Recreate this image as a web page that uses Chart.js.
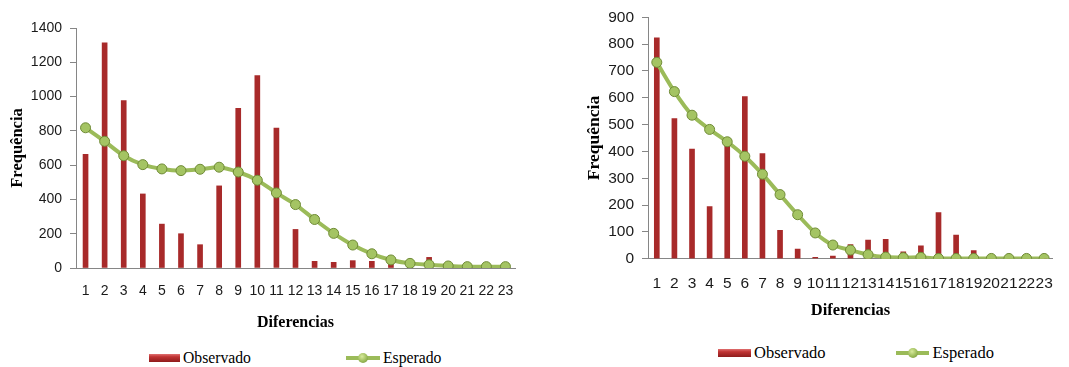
<!DOCTYPE html>
<html><head><meta charset="utf-8">
<script src="https://cdn.jsdelivr.net/npm/chart.js@4.4.0/dist/chart.umd.min.js"></script>
<style>
html,body{margin:0;padding:0;background:#fff;width:1069px;height:367px;overflow:hidden}
.panel{position:absolute;top:0;height:367px}
#p1{left:0;width:540px}
#p2{left:540px;width:529px}
canvas{position:absolute;left:0;top:0}
.legend{position:absolute;display:flex;align-items:center;font-family:"Liberation Serif",serif;color:#000;line-height:20px;white-space:nowrap}
.sw-bar{height:8px;background:linear-gradient(#e07070 0%,#c03434 35%,#8f1c1c 100%);margin-right:3px}
.sw-line{position:relative;height:12px;margin-right:3px}
.sw-line .ln{position:absolute;left:0;right:0;top:4px;height:4px;background:#9BBB59}
.sw-line .dot{position:absolute;top:1px;width:10px;height:10px;border-radius:50%;background:radial-gradient(circle at 40% 35%,#d8ea9c,#9BBB59 55%,#6f8a36);}
</style>
</head><body>
<div class="panel" id="p1">
  <canvas id="c1" width="540" height="340"></canvas>
  <div class="legend" id="lg1" style="left:149px;top:348px;font-size:15.7px"></div>
</div>
<div class="panel" id="p2">
  <canvas id="c2" width="529" height="340"></canvas>
  <div class="legend" id="lg2" style="left:178px;top:343px;font-size:16.5px"></div>
</div>
<script>
const categories = ['1','2','3','4','5','6','7','8','9','10','11','12','13','14','15','16','17','18','19','20','21','22','23'];
const seriesNames = ['Observado','Esperado'];
const xTitle = 'Diferencias';
const yTitle = 'Frequência';

const observed1 = [663,1313,977,432,256,200,136,479,931,1123,816,225,39,33,43,39,30,10,62,0,0,0,0];
const expected1 = [818,739,655,603,578,568,576,588,560,512,438,370,283,202,134,83,47,27,19,12,8,8,8];
const yMax1 = 1400, yStep1 = 200;

const observed2 = [823,522,409,194,428,604,392,106,36,5,10,53,69,72,26,48,172,88,30,0,0,0,0];
const expected2 = [732,623,535,482,436,382,315,239,164,96,51,32,15,6,4,5,1,1,1,1,1,1,1];
const yMax2 = 900, yStep2 = 100;

const AXIS = '#868686';

function makeChart(id, obs, exp, yMax, yStep, L) {
  return new Chart(document.getElementById(id), {
    data: {
      labels: categories,
      datasets: [
        { type: 'line', label: seriesNames[1], data: exp, order: 0,
          borderColor: '#9BBB59', borderWidth: 4, tension: 0.25,
          pointRadius: 5, pointBackgroundColor: '#A4C463', pointBorderColor: '#6F8A36', pointBorderWidth: 1 },
        { type: 'bar', label: seriesNames[0], data: obs, order: 1,
          backgroundColor: '#A82A2A', barThickness: 5 }
      ]
    },
    options: {
      responsive: false, animation: false,
      layout: { padding: { left: 0, right: L.padRight, top: L.padTop, bottom: 0 } },
      plugins: { legend: { display: false }, tooltip: { enabled: false } },
      scales: {
        x: {
          grid: { display: false, drawTicks: false },
          border: { display: true, color: AXIS, width: 1 },
          ticks: { autoSkip: false, maxRotation: 0, minRotation: 0, color: '#1a1a1a',
                   font: { family: 'Liberation Sans', size: L.tickSize }, padding: L.xTickPad },
          title: { display: true, text: xTitle, color: '#000',
                   font: { family: 'Liberation Serif', weight: 'bold', size: L.titleSize },
                   padding: { top: 0, bottom: L.xTitlePad } },
          afterFit: s => { s.height = L.xHeight; }
        },
        y: {
          min: 0, max: yMax,
          ticks: { stepSize: yStep, color: '#1a1a1a', callback: v => String(v),
                   font: { family: 'Liberation Sans', size: L.tickSize }, padding: 8 },
          grid: { display: true, drawOnChartArea: false, drawTicks: true, tickLength: 6, color: AXIS },
          border: { display: true, color: AXIS, width: 1 },
          title: { display: true, text: yTitle, color: '#000',
                   font: { family: 'Liberation Serif', weight: 'bold', size: L.yTitleSize },
                   padding: { top: L.yTitlePad, bottom: 0 } },
          afterFit: s => { s.width = L.yWidth; }
        }
      }
    }
  });
}

makeChart('c1', observed1, expected1, yMax1, yStep1, {
  padRight: 25, padTop: 28, tickSize: 14, xTickPad: 15, titleSize: 16, xTitlePad: 7.4,
  xHeight: 72, yTitleSize: 16.5, yTitlePad: 8, yWidth: 76
});
makeChart('c2', observed2, expected2, yMax2, yStep2, {
  padRight: 11, padTop: 16, tickSize: 15.5, xTickPad: 16, titleSize: 16.5, xTitlePad: 19.8,
  xHeight: 81.3, yTitleSize: 17.5, yTitlePad: 44, yWidth: 108
});

function buildLegend(id, gap, barW, lineW) {
  const el = document.getElementById(id);
  const a = document.createElement('div'); a.style.display = 'flex'; a.style.alignItems = 'center';
  const sb = document.createElement('div'); sb.className = 'sw-bar'; sb.style.width = barW + 'px';
  const ta = document.createElement('span'); ta.textContent = seriesNames[0];
  a.appendChild(sb); a.appendChild(ta);
  const b = document.createElement('div'); b.style.display = 'flex'; b.style.alignItems = 'center'; b.style.marginLeft = gap + 'px';
  const sl = document.createElement('div'); sl.className = 'sw-line'; sl.style.width = lineW + 'px';
  const ln = document.createElement('div'); ln.className = 'ln';
  const dot = document.createElement('div'); dot.className = 'dot'; dot.style.left = (lineW / 2 - 5) + 'px';
  sl.appendChild(ln); sl.appendChild(dot);
  const tb = document.createElement('span'); tb.textContent = seriesNames[1];
  b.appendChild(sl); b.appendChild(tb);
  el.appendChild(a); el.appendChild(b);
}
buildLegend('lg1', 95, 31, 34);
buildLegend('lg2', 71, 33, 33);
</script>
</body></html>
